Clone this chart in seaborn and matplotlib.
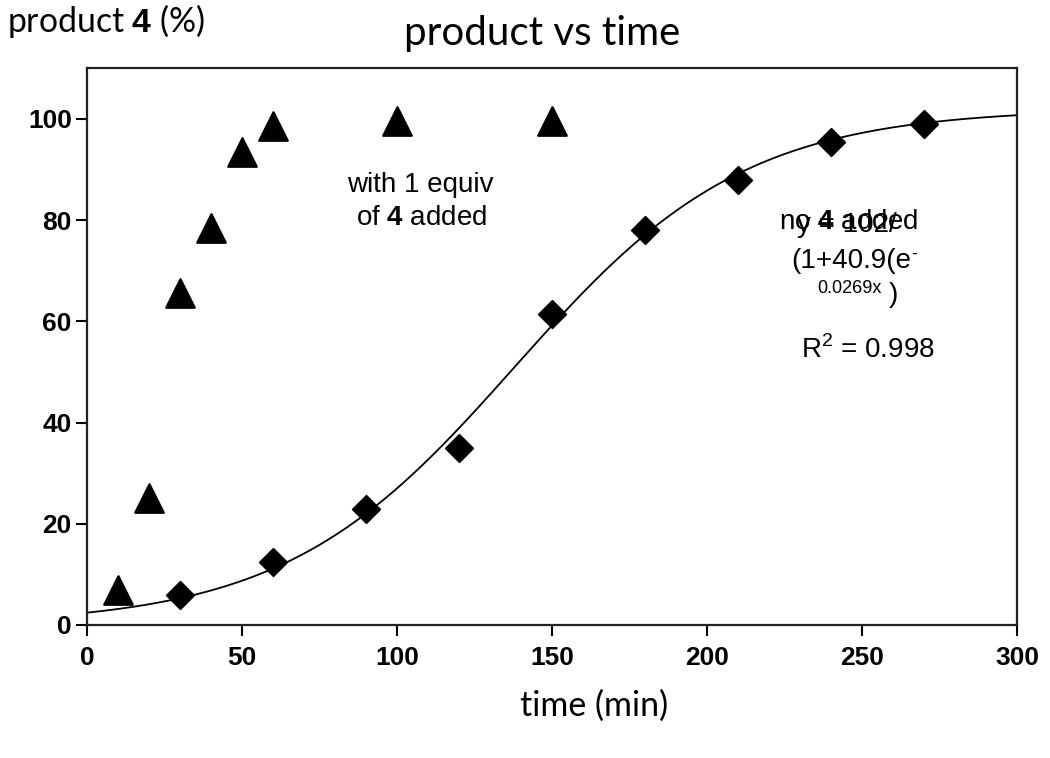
import numpy as np
import pandas as pd
import matplotlib.pyplot as plt
import seaborn as sns

# with 1 equiv of 4 added (triangles)
t_added = [10, 20, 30, 40, 50, 60, 100, 150]
p_added = [7, 25, 65.5, 78.5, 93.5, 98.5, 99.5, 99.5]

# no 4 added (diamonds)
t_none = [30, 60, 90, 120, 150, 180, 210, 240, 270]
p_none = [6, 12.5, 23, 35, 61.5, 78, 88, 95.5, 99]

# logistic fit printed on the chart: y = 102/(1+40.9 e^(-0.0269x))
fit_a, fit_b, fit_k = 102, 40.9, 0.0269

df_added = pd.DataFrame({"time": t_added, "product": p_added})
df_none = pd.DataFrame({"time": t_none, "product": p_none})
xs = np.linspace(0, 300, 301)
df_fit = pd.DataFrame({"time": xs, "product": fit_a / (1 + fit_b * np.exp(-fit_k * xs))})

sns.set_style("white")
plt.rcParams['font.family'] = ['Liberation Sans', 'DejaVu Sans']
plt.rcParams['text.color'] = 'black'
plt.rcParams['mathtext.fontset'] = 'custom'
plt.rcParams['mathtext.rm'] = 'Liberation Sans'
plt.rcParams['mathtext.bf'] = 'Liberation Sans:bold'

fig = plt.figure(figsize=(10.5, 7.58), dpi=100)
ax = fig.add_axes([0.083, 0.1755, 0.8856, 0.7345])

sns.lineplot(data=df_fit, x="time", y="product", color="black", lw=1.3, ax=ax)
sns.scatterplot(data=df_added, x="time", y="product", marker="^", s=420,
                color="black", edgecolor="black", ax=ax, zorder=3)
sns.scatterplot(data=df_none, x="time", y="product", marker="D", s=200,
                color="black", edgecolor="black", ax=ax, zorder=3)

ax.set_xlim(0, 300)
ax.set_ylim(0, 110)
ax.set_xticks(range(0, 301, 50))
ax.set_yticks(range(0, 101, 20))
for s in ax.spines.values():
    s.set_color("#222222")
    s.set_linewidth(1.6)
ax.tick_params(direction="out", length=8, width=1.5, colors="black",
               labelsize=19, left=True, bottom=True)
ax.tick_params(axis="y", pad=3)
ax.tick_params(axis="x", pad=7)
for lab in ax.get_xticklabels() + ax.get_yticklabels():
    lab.set_fontweight("bold")
ax.set_xlabel("")
ax.set_ylabel("")

fig.text(0.5165, 1 - 45 / 758, "product vs time", ha="center", va="baseline",
         fontsize=29, family="Lato")
fig.text(0.007, 1 - 32 / 758, r"product $\mathbf{4}$ (%)", ha="left", va="baseline",
         fontsize=24.3, family="Lato")
fig.text(0.5655, 1 - 716 / 758, "time (min)", ha="center", va="baseline",
         fontsize=24.5, family="Lato")

fs = 20
ax.text(107.5, 85.6, "with 1 equiv", ha="center", va="baseline", fontsize=fs)
ax.text(108, 79.0, "of $\\mathbf{4}$ added", ha="center", va="baseline", fontsize=fs)
ax.text(245.5, 78.3, "no $\\mathbf{4}$ added", ha="center", va="baseline", fontsize=fs)
ax.text(245, 77.6, "y = 102/", ha="center", va="baseline", fontsize=fs)
ax.text(246.5, 70.6, "(1+40.9(e", ha="center", va="baseline", fontsize=fs)
ax.text(266.8, 73.3, "-", ha="center", va="center", fontsize=13)
ax.text(246, 65.6, "0.0269x", ha="center", va="baseline", fontsize=13)
ax.text(260, 65.2, ")", ha="center", va="center", fontsize=fs)
ax.text(252, 52.8, "R$^2$ = 0.998", ha="center", va="baseline", fontsize=fs)

fig.savefig("out.png", dpi=100)
